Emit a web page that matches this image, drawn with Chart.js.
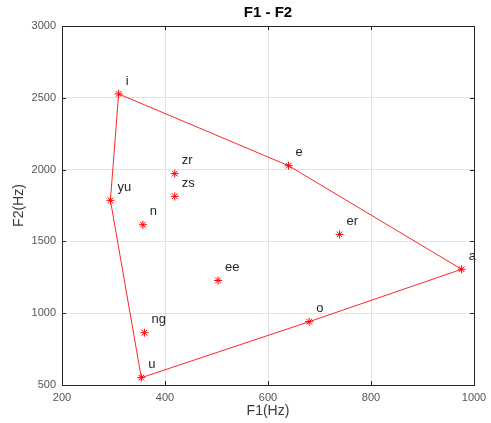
<!DOCTYPE html>
<html><head><meta charset="utf-8">
<script src="https://cdn.jsdelivr.net/npm/chart.js@4/dist/chart.umd.min.js"></script>
<style>html,body{margin:0;padding:0;background:#fff}#wrap{width:491px;height:423px}</style>
</head><body><div id="wrap"><canvas id="c" width="491" height="423"></canvas></div>
<script>
const vowels = ['i','e','a','o','u','yu','zr','zs','n','er','ee','ng'];
const f1 = [310, 640, 976, 680, 354, 294, 419, 419, 357, 739, 503, 360];
const f2 = [2527, 2027, 1306, 941, 551, 1786, 1972, 1814, 1616, 1549, 1228, 864];
const loopOrder = ['i','e','a','o','u','yu','i'];
const xTicks = [200, 400, 600, 800, 1000];
const yTicks = [500, 1000, 1500, 2000, 2500, 3000];

const pts = vowels.map((v,k)=>({x:f1[k], y:f2[k], label:v}));
const loopPts = loopOrder.map(v=>{const k=vowels.indexOf(v);return {x:f1[k],y:f2[k]};});

const overlay = {
  id:'overlay',
  afterDraw(chart){
    const {ctx, chartArea:a, scales:{x,y}} = chart;
    ctx.save();
    ctx.strokeStyle='#262626'; ctx.lineWidth=1;
    ctx.strokeRect(Math.round(a.left)+0.5, Math.round(a.top)+0.5, Math.round(a.right-a.left), Math.round(a.bottom-a.top));
    ctx.beginPath();
    xTicks.forEach(t=>{const px=Math.round(x.getPixelForValue(t))+0.5;
      ctx.moveTo(px,a.bottom);ctx.lineTo(px,a.bottom-4);ctx.moveTo(px,a.top);ctx.lineTo(px,a.top+4);});
    yTicks.forEach(t=>{const py=Math.round(y.getPixelForValue(t))+0.5;
      ctx.moveTo(a.left,py);ctx.lineTo(a.left+4,py);ctx.moveTo(a.right,py);ctx.lineTo(a.right-4,py);});
    ctx.stroke();
    ctx.fillStyle='#262626'; ctx.font='13px "Liberation Sans", Arial, sans-serif';
    ctx.textAlign='left'; ctx.textBaseline='middle';
    pts.forEach(p=>{ctx.fillText(p.label, x.getPixelForValue(p.x)+7, y.getPixelForValue(p.y)-13);});
    ctx.font='bold 15px "Liberation Sans", Arial, sans-serif';
    ctx.textAlign='center'; ctx.fillStyle='#000';
    ctx.fillText('F1 - F2', (a.left+a.right)/2, 13);
    ctx.font='14px "Liberation Sans", Arial, sans-serif'; ctx.fillStyle='#3a3a3a';
    ctx.fillText('F1(Hz)', (a.left+a.right)/2, 411);
    ctx.translate(19,(a.top+a.bottom)/2); ctx.rotate(-Math.PI/2);
    ctx.fillText('F2(Hz)',0,0);
    ctx.restore();
  }
};

const tickFont = {size:11,family:'"Liberation Sans", Arial, sans-serif'};
new Chart(document.getElementById('c'),{
  type:'scatter',
  data:{datasets:[
    {data:loopPts, showLine:true, borderColor:'rgba(255,0,0,0.85)', borderWidth:1, pointRadius:0, pointHoverRadius:0, tension:0},
    {data:pts, pointStyle:'star', pointRadius:4, borderColor:'#ff0000', backgroundColor:'#ff0000', pointBorderWidth:1, showLine:false}
  ]},
  plugins:[overlay],
  options:{
    responsive:false, animation:false, events:[],
    layout:{padding:{top:26,right:17,left:0,bottom:0}},
    plugins:{legend:{display:false},tooltip:{enabled:false},title:{display:false}},
    scales:{
      x:{type:'linear',min:200,max:1000,
        afterBuildTicks(s){s.ticks=xTicks.map(v=>({value:v}));},
        afterFit(s){s.height=38; s.paddingRight=0; s.paddingLeft=0;},
        grid:{color:'#e3e3e3',drawTicks:false},
        border:{display:false},
        ticks:{padding:6,color:'#555',font:tickFont,maxRotation:0,callback:v=>String(v)}},
      y:{type:'linear',min:500,max:3000,
        afterBuildTicks(s){s.ticks=yTicks.map(v=>({value:v}));},
        afterFit(s){s.width=62; s.paddingTop=0; s.paddingBottom=0;},
        grid:{color:'#e3e3e3',drawTicks:false},
        border:{display:false},
        ticks:{padding:6,color:'#555',font:tickFont,callback:v=>String(v)}}
    }
  }
});
</script></body></html>
